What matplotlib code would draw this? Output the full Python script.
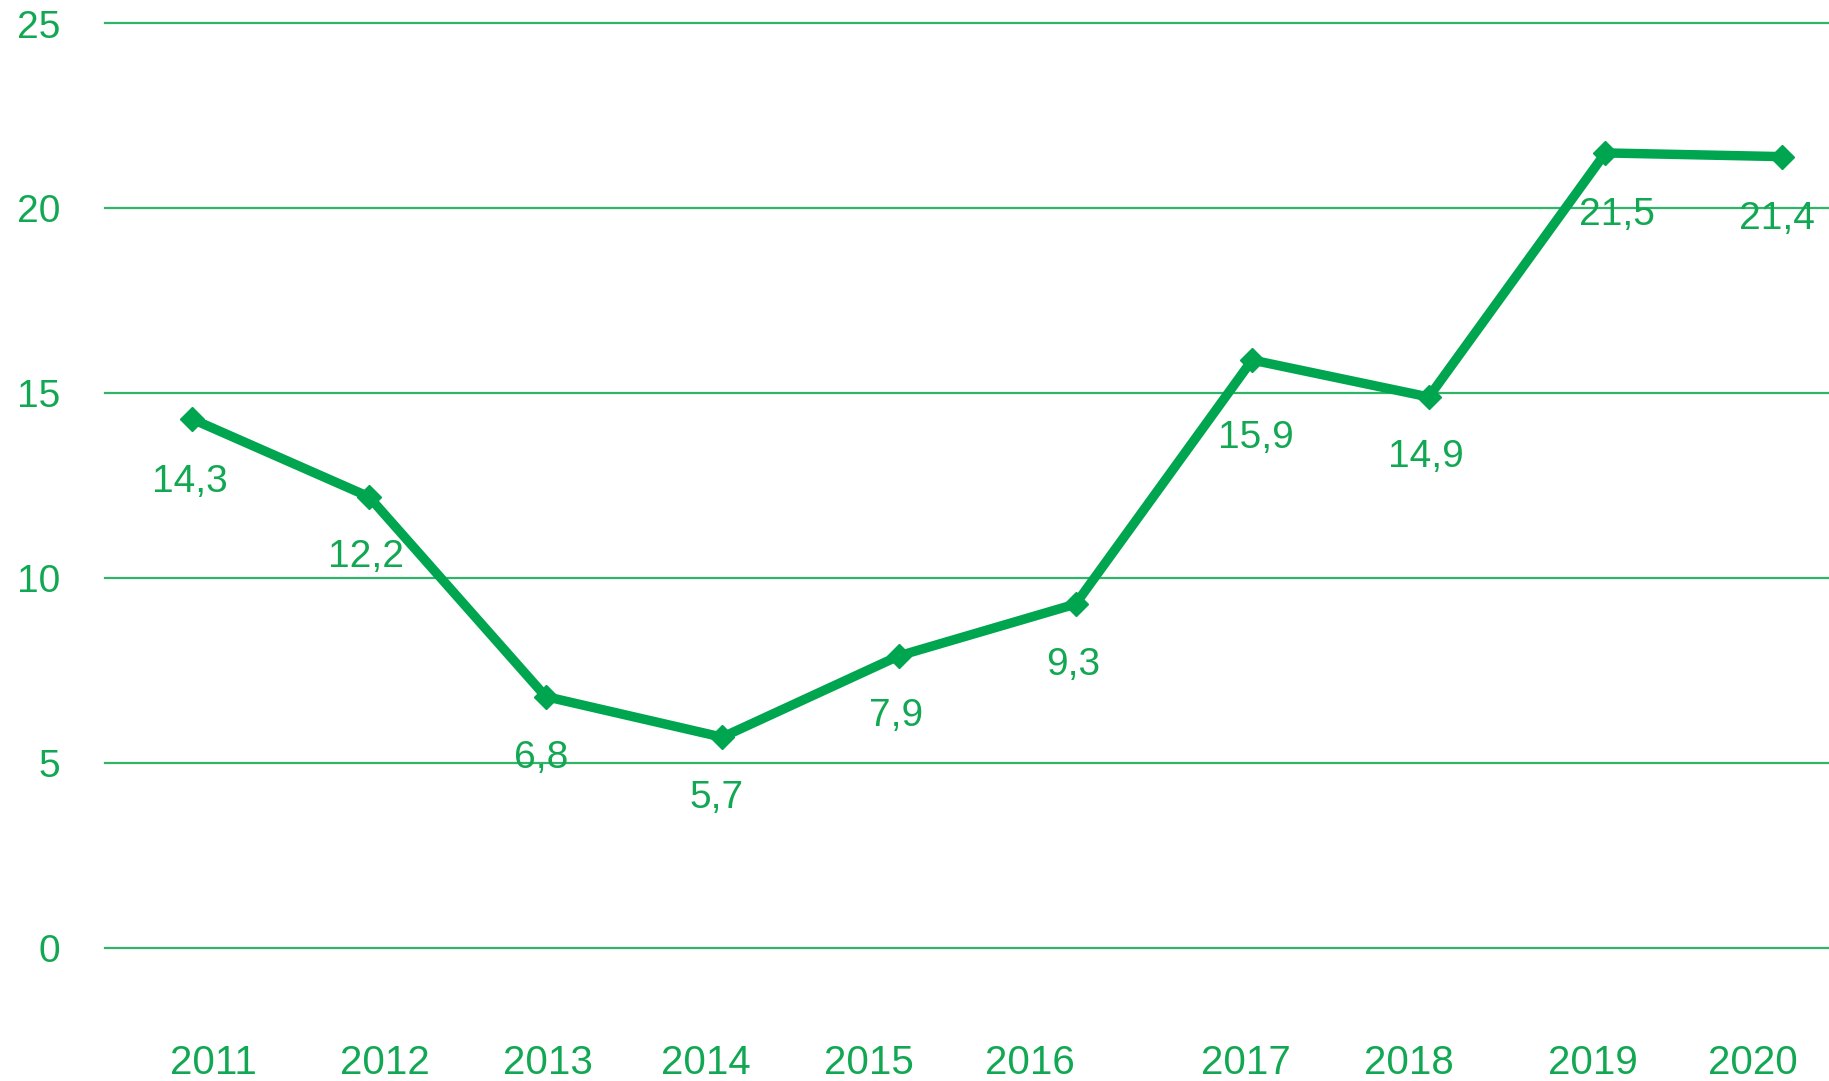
import matplotlib
matplotlib.use("Agg")
import matplotlib.pyplot as plt

years = [2011, 2012, 2013, 2014, 2015, 2016, 2017, 2018, 2019, 2020]
values = [14.3, 12.2, 6.8, 5.7, 7.9, 9.3, 15.9, 14.9, 21.5, 21.4]
value_labels = ["14,3", "12,2", "6,8", "5,7", "7,9", "9,3", "15,9", "14,9", "21,5", "21,4"]
year_labels = ["2011", "2012", "2013", "2014", "2015", "2016", "2017", "2018", "2019", "2020"]
yticks = [0, 5, 10, 15, 20, 25]

# layout: horizontal shift of year labels relative to points (in year units)
label_shift = [0.12, 0.09, 0.013, -0.092, -0.172, -0.257, -0.033, -0.112, -0.073, -0.165]
# layout: value label offsets in points (dx, dy)
val_off = [(-2, -45), (-2, -43), (-3, -44), (-4, -44), (-2, -43), (-2, -44), (3, -56), (-2, -43), (8, -45), (-4, -45)]

LINE = "#00A54F"
GRID = "#2EB56A"
TEXT = "#12A853"

plt.rcParams['font.family'] = ['Liberation Sans', 'DejaVu Sans']

fig = plt.figure(figsize=(18.29, 10.81), dpi=100)
ax = fig.add_axes([105/1829, 1 - 948/1081, 1 - 105/1829, (948 - 23.5)/1081])

ax.set_ylim(0, 25)
ax.set_xlim(2010.505, 2020.266)

for y in yticks:
    ax.axhline(y, color=GRID, lw=1.6, zorder=1, clip_on=False)

ax.plot(years, values, color=LINE, lw=6.8, marker="D", markersize=12,
        solid_joinstyle="miter", zorder=3, clip_on=False)

for x, v, t, (dx, dy) in zip(years, values, value_labels, val_off):
    ax.annotate(t, (x, v), xytext=(dx, dy), textcoords="offset points",
                ha="center", va="center", fontsize=28, color=TEXT, zorder=4)

ax.set_xticks([y + s for y, s in zip(years, label_shift)])
ax.set_xticklabels(year_labels)
ax.set_yticks(yticks)
ax.set_yticklabels([str(y) for y in yticks])
ax.tick_params(axis="x", length=0, pad=69, labelsize=29, labelcolor=TEXT)
ax.tick_params(axis="y", length=0, pad=32, labelsize=28, labelcolor=TEXT)
for s in ax.spines.values():
    s.set_visible(False)
ax.grid(False)

fig.savefig("out.png", dpi=100)
